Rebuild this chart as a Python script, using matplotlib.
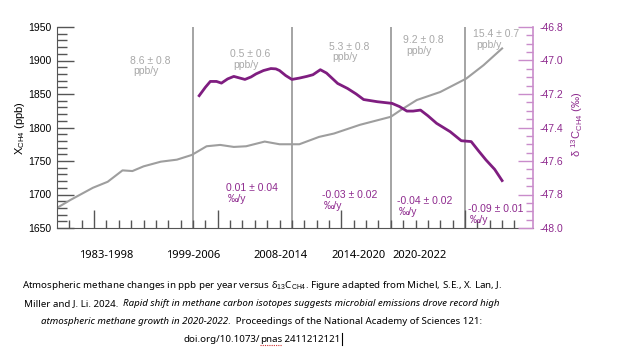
import matplotlib
matplotlib.use('Agg')
import matplotlib.pyplot as plt
from matplotlib.ticker import MultipleLocator, FixedLocator

plt.rcParams['font.family'] = ['Liberation Sans', 'DejaVu Sans']
plt.rcParams['mathtext.fontset'] = 'custom'
plt.rcParams['mathtext.rm'] = 'Liberation Sans'
plt.rcParams['mathtext.it'] = 'Liberation Sans:italic'

# 数据
ch4_years = [1987.0, 1988.1, 1989.9, 1991.1, 1992.3, 1993.1, 1994.0, 1995.4, 1996.7,
             1997.9, 1999.1, 2000.2, 2001.3, 2002.3, 2003.8, 2005.0, 2006.6, 2008.2,
             2009.4, 2011.5, 2014.0, 2014.8, 2016.1, 2018.0, 2020.1, 2021.5, 2023.0]
ch4_ppb = [1680, 1692, 1710, 1719, 1736, 1735, 1742, 1749, 1752,
           1759, 1772, 1774, 1771, 1772, 1779, 1775, 1775, 1786,
           1791, 1804, 1816, 1826, 1841, 1853, 1873, 1893, 1918]

d13c_years = [1998.5, 1999.0, 1999.4, 1999.9, 2000.3, 2000.8, 2001.3, 2001.8, 2002.2,
              2002.7, 2003.1, 2003.7, 2004.3, 2004.7, 2005.0, 2005.5, 2006.0, 2006.6,
              2007.2, 2007.7, 2008.3, 2008.8, 2009.7, 2010.5, 2011.2, 2011.8, 2012.9,
              2014.1, 2014.7, 2015.3, 2015.8, 2016.4, 2017.0, 2017.7, 2018.8, 2019.7,
              2020.5, 2021.1, 2021.7, 2022.4, 2023.0]
d13c = [-47.21, -47.16, -47.125, -47.125, -47.135, -47.11, -47.095, -47.105, -47.113,
        -47.098, -47.08, -47.06, -47.048, -47.05, -47.06, -47.09, -47.113, -47.105,
        -47.095, -47.085, -47.055, -47.075, -47.137, -47.167, -47.2, -47.233, -47.246,
        -47.256, -47.275, -47.302, -47.302, -47.296, -47.33, -47.375, -47.425, -47.479,
        -47.484, -47.54, -47.594, -47.65, -47.717]

period_breaks = [1998, 2006, 2014, 2020]
period_names = ['1983-1998', '1999-2006', '2008-2014', '2014-2020', '2020-2022']
ppb_rates = ['8.6 ± 0.8', '0.5 ± 0.6', '5.3 ± 0.8', '9.2 ± 0.8', '15.4 ± 0.7']
iso_rates = ['0.01 ± 0.04', '-0.03 ± 0.02', '-0.04 ± 0.02', '-0.09 ± 0.01']

# 颜色
colors = {
    'grey_line': '#9e9e9e',
    'vline': '#8c8c8c',
    'axis': '#555555',
    'purple': '#7f1d80',
    'purple_text': '#8e2a8e',
    'purple_axis': '#c98ccb',
    'grey_text': '#a8a8a8',
}

W, H = 624, 358
fig = plt.figure(figsize=(W / 100, H / 100), dpi=100)
ax = fig.add_axes([57 / W, 1 - 228 / H, 476 / W, 201 / H])
ax2 = ax.twinx()


def px(x, y):
    return x / W, 1 - y / H


ax.set_xlim(1987, 2025.5)
ax.set_ylim(1650, 1950)
ax2.set_ylim(-48.0, -46.8)

for yr in period_breaks:
    ax.axvline(yr, color=colors['vline'], lw=1.1, zorder=1)

ax.plot(ch4_years, ch4_ppb, color=colors['grey_line'], lw=1.5, zorder=2)
ax2.plot(d13c_years, d13c, color=colors['purple'], lw=2.0, zorder=3)

# 坐标轴样式
for s in ['top', 'right']:
    ax.spines[s].set_visible(False)
ax.spines['left'].set_color(colors['axis'])
ax.spines['bottom'].set_color(colors['axis'])
for s in ['top', 'left', 'bottom']:
    ax2.spines[s].set_visible(False)
ax2.spines['right'].set_color(colors['purple_axis'])
ax2.spines['right'].set_linewidth(1.2)

ax.yaxis.set_major_locator(MultipleLocator(50))
ax.yaxis.set_minor_locator(MultipleLocator(10))
ax.xaxis.set_major_locator(FixedLocator([1990, 2000, 2010, 2020]))
ax.xaxis.set_minor_locator(FixedLocator(list(range(1988, 2025))))
ax.tick_params(axis='y', which='major', direction='in', length=12, width=1,
               color=colors['axis'], labelsize=7.5, pad=4)
ax.tick_params(axis='y', which='minor', direction='in', length=7, width=1,
               color=colors['axis'])
ax.tick_params(axis='x', which='major', direction='in', length=13, width=1,
               color=colors['axis'], labelbottom=False)
ax.tick_params(axis='x', which='minor', direction='in', length=6, width=1,
               color=colors['axis'])

ax2.yaxis.set_major_locator(MultipleLocator(0.2))
ax2.yaxis.set_minor_locator(MultipleLocator(0.05))
ax2.yaxis.set_major_formatter(matplotlib.ticker.FormatStrFormatter('%.1f'))
ax2.tick_params(axis='y', which='major', direction='in', length=11, width=1,
                color=colors['purple_axis'], labelcolor=colors['purple_text'],
                labelsize=7.5, pad=5)
ax2.tick_params(axis='y', which='minor', direction='in', length=5, width=1,
                color=colors['purple_axis'])

# 轴标签
fig.text(*px(20, 128), 'X$_{\\mathrm{CH4}}$ (ppb)', rotation=90, ha='center',
         va='center', fontsize=8)
fig.text(*px(577, 124), 'δ $^{13}$C$_{\\mathrm{CH4}}$ (‰)', rotation=90, ha='center',
         va='center', fontsize=8, color=colors['purple_text'])

# 增长率标注
ppb_pos = [(130, 61), (230, 54), (329, 47), (403, 40), (473, 34)]
for (x, y), txt in zip(ppb_pos, ppb_rates):
    fig.text(*px(x, y), txt, ha='left', va='center', fontsize=7.5,
             color=colors['grey_text'])
    fig.text(*px(x + 3, y + 10.5), 'ppb/y', ha='left', va='center', fontsize=7.5,
             color=colors['grey_text'])

iso_pos = [(226, 188), (322, 195), (397, 201), (468, 209)]
for (x, y), txt in zip(iso_pos, iso_rates):
    fig.text(*px(x, y), txt, ha='left', va='center', fontsize=7.5,
             color=colors['purple_text'])
    fig.text(*px(x + 2, y + 11), '‰/y', ha='left', va='center', fontsize=7.5,
             color=colors['purple_text'])

# 时期标签
period_x = [106, 193, 281, 359, 420]
for x, name in zip(period_x, period_names):
    fig.text(*px(x, 255), name, ha='center', va='center', fontsize=8,
             family=['Noto Sans', 'DejaVu Sans'])

# 图注（部分斜体）
caption = [
    [('Atmospheric methane changes in ppb per year versus δ$_{13}$C$_{\\mathrm{CH4}}$. '
      'Figure adapted from Michel, S.E., X. Lan, J.', 'normal', False)],
    [('Miller and J. Li. 2024.  ', 'normal', False),
     ('Rapid shift in methane carbon isotopes suggests microbial emissions drove record high',
      'italic', False)],
    [('atmospheric methane growth in 2020-2022', 'italic', False),
     ('.  Proceedings of the National Academy of Sciences 121:', 'normal', False)],
    [('doi.org/10.1073/', 'normal', False), ('pnas', 'normal', True),
     (' 2411212121', 'normal', False)],
]
caption_y = [286, 304, 321.5, 339]
cap_font = ['Noto Sans', 'DejaVu Sans']
cap_size = 7.0

renderer = fig.canvas.get_renderer()
for line, y in zip(caption, caption_y):
    texts = []
    for seg, style, under in line:
        t = fig.text(0, 1 - y / H, seg, ha='left', va='center', fontsize=cap_size,
                     style=style, family=cap_font)
        texts.append((t, under))
    widths = [t.get_window_extent(renderer).width for t, _ in texts]
    x0 = 262 - sum(widths) / 2
    for (t, under), w in zip(texts, widths):
        t.set_x(x0 / W)
        if under:
            fig.add_artist(plt.Line2D([x0 / W, (x0 + w) / W],
                                      [1 - (y + 6) / H] * 2, color='#d03030',
                                      lw=0.8, ls=(0, (1, 1))))
        x0 += w
    if line is caption[-1]:
        fig.add_artist(plt.Line2D([(x0 + 1) / W] * 2, [1 - (y - 6) / H, 1 - (y + 6) / H],
                                  color='black', lw=0.8))

fig.savefig('out.png', dpi=100, facecolor='white')
